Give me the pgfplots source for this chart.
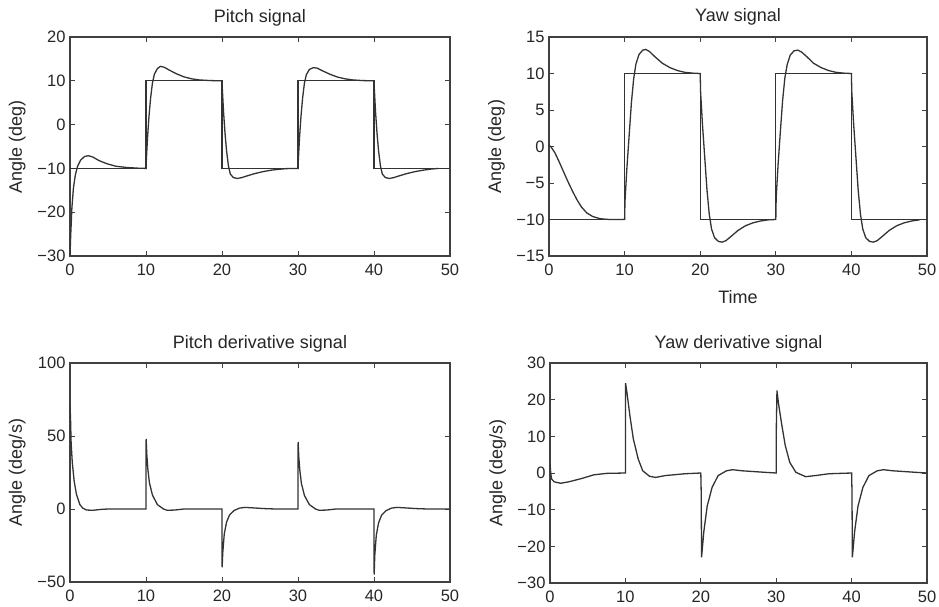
\documentclass[border=0pt]{standalone}
\usepackage{fontspec}
\setmainfont{Liberation Sans}
\usepackage{pgfplots}
\pgfplotsset{compat=1.18}
\begin{document}
\begin{tikzpicture}
\path[use as bounding box] (0pt,0pt) rectangle (939pt,606pt);
\pgfplotsset{
  mstyle/.style={
    scale only axis, anchor=south west,
    xmin=0,xmax=50, xtick={0,10,20,30,40,50}, xticklabels={0,10,20,30,40,50},
    tick align=inside, major tick length=5pt,
    axis line style={line width=1.5pt, black!75},
    every tick/.style={line width=0.9pt, black!75},
    tick label style={font=\fontsize{16.5}{19}\selectfont, text=black!85},
    label style={font=\fontsize{18}{21}\selectfont, text=black!85},
    title style={font=\fontsize{18}{21}\selectfont, text=black!85, at={(axis description cs:0.5,1)}, anchor=base, yshift=9pt},
    ylabel style={at={(axis description cs:-0.139,0.5)}, anchor=center},
    xticklabel style={yshift=-4pt},
    yticklabel style={xshift=-1pt},
  },
  sig/.style={line width=1.3pt, black!80, mark=none},
}
% ---------------- Pitch signal ----------------
\begin{axis}[mstyle, at={(70pt,350pt)}, width=380pt, height=219pt,
  ymin=-30, ymax=20, ytick={-30,-20,-10,0,10,20},
  yticklabels={−30,−20,−10,0,10,20},
  title={Pitch signal}, ylabel={Angle (deg)}]
\addplot[sig] coordinates {(0,-10) (10,-10) (10,10) (20,10) (20,-10) (30,-10) (30,10) (40,10) (40,-10) (50,-10)};
\addplot[sig] coordinates {
(0,-30) (0.1,-25) (0.25,-19) (0.45,-14.5) (0.7,-11.5) (1.0,-9.5) (1.4,-8.1) (1.9,-7.3) (2.4,-7.1) (3.0,-7.4) (3.8,-8.2) (4.8,-8.9) (6.0,-9.5) (7.5,-9.8) (9.0,-9.95) (10,-10)
(10.05,-8) (10.2,-3) (10.4,2) (10.6,6) (10.85,9.5) (11.1,11.5) (11.5,12.8) (11.9,13.3) (12.4,13.1) (13.0,12.5) (14.0,11.6) (15.0,10.9) (16.0,10.45) (17.0,10.2) (18.5,10.05) (20,10)
(20.05,8) (20.2,3) (20.4,-2) (20.6,-6) (20.85,-9.5) (21.1,-11.3) (21.5,-12.1) (22.0,-12.3) (22.6,-12.1) (23.5,-11.6) (24.5,-11.1) (25.5,-10.7) (26.5,-10.4) (27.5,-10.2) (28.5,-10.05) (30,-10)
(30.05,-8) (30.2,-3) (30.4,2) (30.6,6) (30.85,9.5) (31.1,11.4) (31.5,12.6) (32.0,13.0) (32.5,12.9) (33.2,12.3) (34.2,11.5) (35.2,10.85) (36.2,10.45) (37.2,10.2) (38.5,10.05) (40,10)
(40.05,8) (40.2,3) (40.4,-2) (40.6,-6) (40.85,-9.5) (41.1,-11.3) (41.5,-12.1) (42.0,-12.3) (42.6,-12.1) (43.5,-11.6) (44.5,-11.1) (45.5,-10.7) (46.5,-10.4) (47.5,-10.15) (48.5,-10)
};
\end{axis}
% ---------------- Yaw signal ----------------
\begin{axis}[mstyle, at={(549pt,350pt)}, width=378pt, height=219pt,
  ymin=-15, ymax=15, ytick={-15,-10,-5,0,5,10,15},
  yticklabels={−15,−10,−5,0,5,10,15},
  title={Yaw signal}, ylabel={Angle (deg)}, xlabel={Time},
  xlabel style={at={(axis description cs:0.5,0)}, anchor=center, yshift=-41pt}]
\addplot[sig] coordinates {(0,-10) (10,-10) (10,10) (20,10) (20,-10) (30,-10) (30,10) (40,10) (40,-10) (50,-10)};
\addplot[sig] coordinates {
(0,0.2) (0.3,-0.1) (0.8,-0.9) (1.3,-2.0) (1.9,-3.4) (2.5,-4.8) (3.1,-6.1) (3.7,-7.3) (4.3,-8.3) (5.0,-9.1) (5.8,-9.6) (6.8,-9.9) (8.0,-10) (10,-10)
(10.05,-7.5) (10.3,-3) (10.6,1.5) (10.9,6) (11.2,9.3) (11.5,11.3) (11.9,12.6) (12.4,13.2) (12.8,13.3) (13.3,13.0) (14.0,12.3) (15.0,11.4) (16.0,10.8) (17.0,10.4) (18.0,10.15) (19.0,10.05) (20,10)
(20.05,7.5) (20.3,3) (20.6,-1.5) (20.9,-6) (21.2,-9.3) (21.5,-11.3) (21.9,-12.5) (22.4,-13.0) (22.9,-13.1) (23.4,-12.9) (24.1,-12.3) (25.0,-11.5) (26.0,-10.85) (27.0,-10.45) (28.0,-10.2) (29.0,-10.05) (30,-10)
(30.05,-7) (30.3,-2.5) (30.6,2) (30.9,6.3) (31.2,9.4) (31.5,11.2) (31.9,12.5) (32.4,13.1) (32.9,13.2) (33.4,12.95) (34.1,12.3) (35.0,11.4) (36.0,10.8) (37.0,10.4) (38.0,10.15) (39.0,10.05) (40,10)
(40.05,7.5) (40.3,3) (40.6,-1.5) (40.9,-6) (41.2,-9.3) (41.5,-11.3) (41.9,-12.5) (42.4,-13.0) (42.9,-13.1) (43.4,-12.9) (44.1,-12.3) (45.0,-11.5) (46.0,-10.85) (47.0,-10.45) (48.0,-10.2) (49.0,-10.05)
};
\end{axis}
% ---------------- Pitch derivative ----------------
\begin{axis}[mstyle, at={(70pt,24pt)}, width=380pt, height=219pt,
  ymin=-50, ymax=100, ytick={-50,0,50,100},
  yticklabels={−50,0,50,100},
  title={Pitch derivative signal}, ylabel={Angle (deg/s)}]
\addplot[sig] coordinates {
(0,72) (0.08,60) (0.15,45) (0.3,32) (0.55,19) (0.85,10) (1.3,3) (1.7,0.5) (2.2,-0.7) (3.0,-0.9) (4.0,-0.3) (5,0) (10,0)
(10.02,48) (10.1,38) (10.25,27) (10.45,18) (10.85,9.5) (11.5,3) (12.3,0) (12.8,-0.9) (13.8,-0.7) (15,0) (20,0)
(20.02,-40) (20.1,-30) (20.3,-17) (20.6,-9) (21.0,-4) (21.6,-1) (22.3,0.6) (23.0,1.1) (24.0,0.8) (25.5,0.3) (27,0) (30,0)
(30.02,46) (30.1,36) (30.25,26) (30.45,17.5) (30.85,9.2) (31.5,3) (32.3,0) (32.8,-0.9) (33.8,-0.7) (35,0) (40,0)
(40.02,-45) (40.1,-32) (40.3,-18) (40.6,-9.5) (41.0,-4.2) (41.6,-1.1) (42.3,0.6) (43.0,1.1) (44.0,0.8) (45.5,0.3) (47,0) (50,0)
};
\end{axis}
% ---------------- Yaw derivative ----------------
\begin{axis}[mstyle, at={(550pt,23pt)}, width=377pt, height=220pt,
  ymin=-30, ymax=30, ytick={-30,-20,-10,0,10,20,30},
  yticklabels={−30,−20,−10,0,10,20,30},
  title={Yaw derivative signal}, ylabel={Angle (deg/s)}]
\addplot[sig] coordinates {
(0,2.5) (0.1,0) (0.2,-1.6) (0.55,-2.4) (1.4,-2.8) (2.5,-2.4) (4.2,-1.5) (5.8,-0.5) (7.5,-0.1) (10,0)
(10.02,24.5) (10.2,22) (10.6,15.6) (11.05,9.3) (11.7,3.8) (12.3,0.6) (13.2,-0.9) (14,-1.2) (15.3,-0.7) (17.9,-0.2) (20,0)
(20.05,-5) (20.1,-23) (20.4,-16) (20.85,-9) (21.5,-3.9) (22.3,-0.7) (23.4,0.6) (24.2,0.9) (25.5,0.6) (28.4,0.2) (30,0)
(30.02,13) (30.1,22.5) (30.3,19) (30.75,13) (31.2,7.5) (31.8,2.9) (32.6,0.2) (33.9,-1) (35.2,-0.7) (37,-0.2) (40,0)
(40.05,-5) (40.1,-23) (40.4,-16) (40.85,-9) (41.5,-3.9) (42.3,-0.7) (43.4,0.6) (44.2,0.9) (45.5,0.6) (48.4,0.2) (50,0)
};
\end{axis}
\end{tikzpicture}
\end{document}
